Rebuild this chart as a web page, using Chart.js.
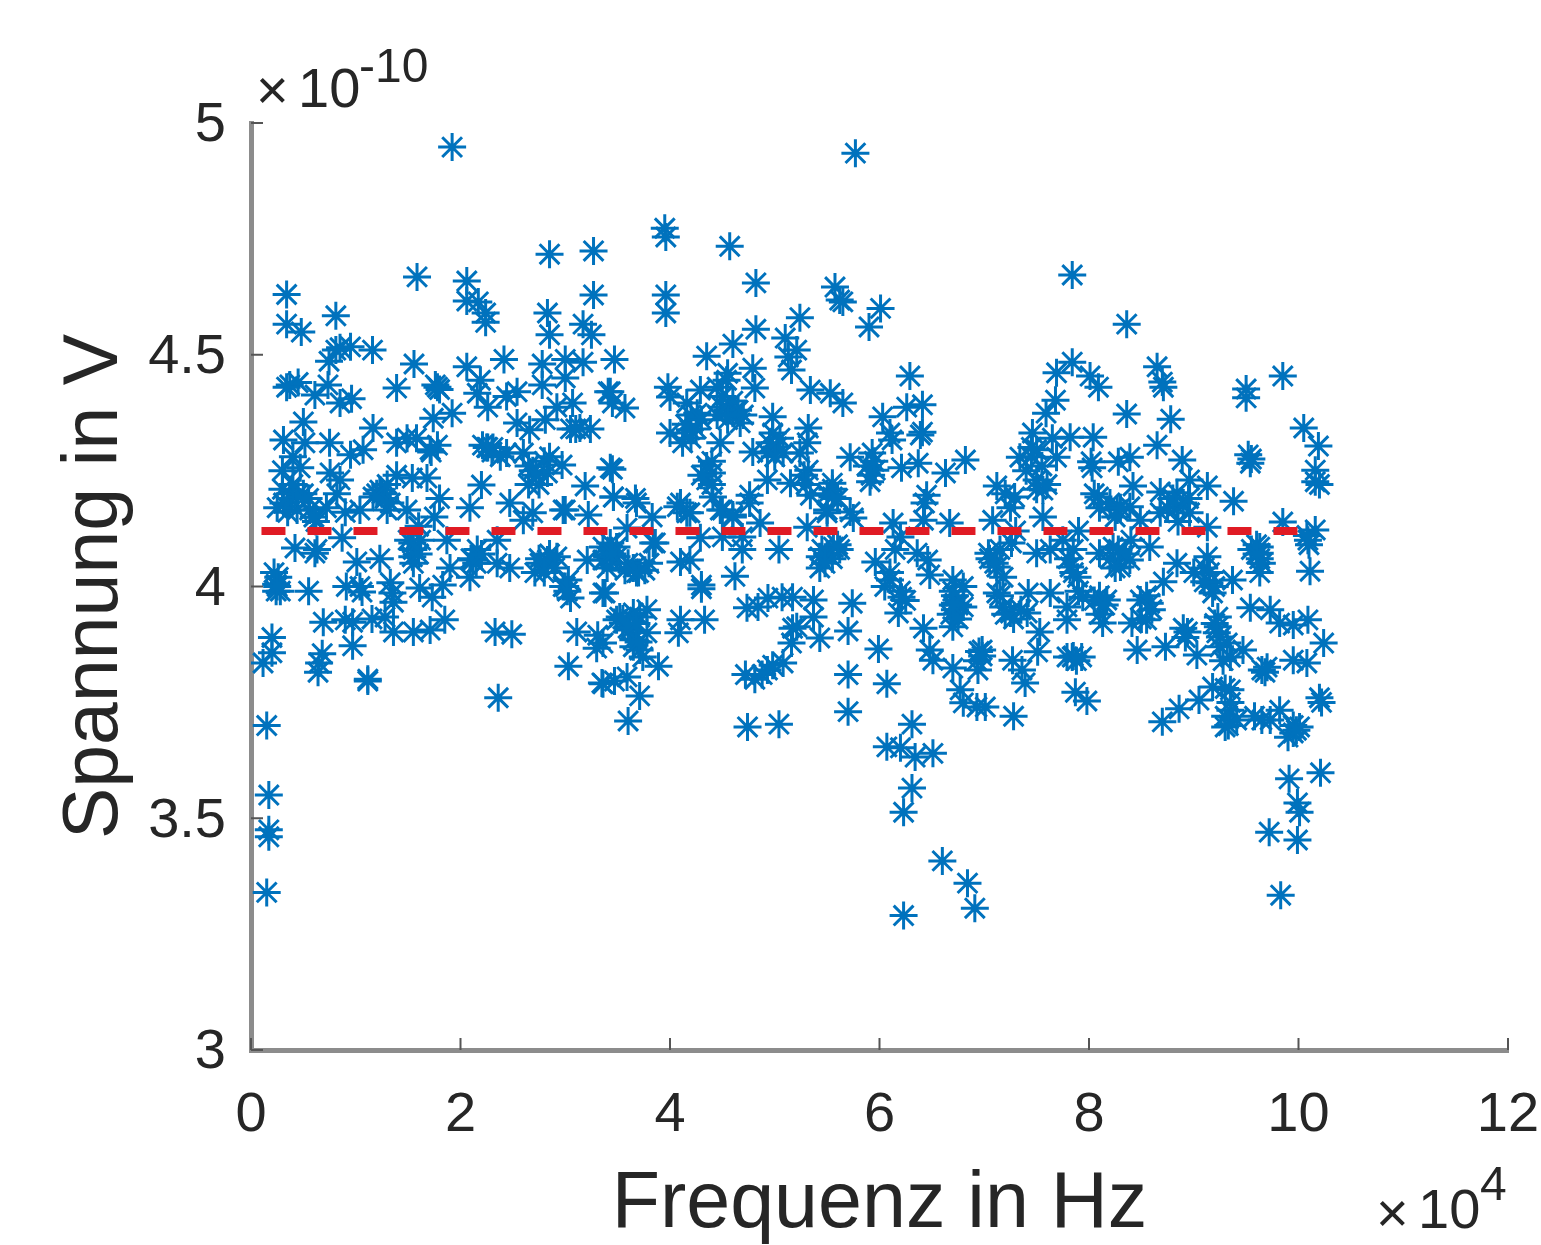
<!DOCTYPE html>
<html>
<head>
<meta charset="utf-8">
<title>Spannung über Frequenz</title>
<script src="https://cdn.jsdelivr.net/npm/chart.js@4"></script>
<style>
  html, body { margin: 0; background: #fff; }
  canvas { display: block; }
</style>
</head>
<body>
<canvas id="chart" width="1541" height="1245"></canvas>
<script>
// Tick labels (x in 10^4 Hz, y in 10^-10 V)
const xTicks = [0, 2, 4, 6, 8, 10, 12];
const yTicks = [3, 3.5, 4, 4.5, 5];

// Mean voltage line
const meanFreq = [0.1, 10.15];
const meanVolt = [4.12, 4.12];

const band0to1 = [
  [.15,3.34],[.17,3.46],[.17,3.475],[.17,3.55],[.15,3.70],[.115,3.835],[.2,3.857],[.2,3.89],
  [.24,3.99],[.24,4.005],[.26,4.02],[.22,4.03],[.28,3.99],[.25,4.0],[.55,3.99],[.91,4.0],
  [.34,4.63],[.34,4.566],[.48,4.549],[.81,4.584],[.85,4.515],[.95,4.517],[.745,4.486],[.81,4.51],
  [.37,4.435],[.45,4.44],[.34,4.43],[.61,4.413],[.735,4.435],[.85,4.396],[.96,4.405],
  [.5,4.355],[.31,4.316],[.515,4.31],[.75,4.31],[.95,4.284],[.47,4.256],[.755,4.245],[.85,4.23],
  [.37,4.2],[.5,4.2],[.31,4.18],[.44,4.165],[.56,4.165],[.82,4.2],[.42,4.083],[.63,4.08],[.61,4.072],
  [.87,4.105],[.69,3.923],[.9,3.928],[.97,3.923],[.68,3.855],[.64,3.815],[.65,3.835],[.97,3.872],
  [.3,4.25],[.4,4.28],[.62,4.14],[.72,4.17],[.9,4.16],
  [.3,4.21],[.38,4.19],[.45,4.2],[.55,4.19],[.6,4.15],[.35,4.16],[.25,4.17],[.4,4.22]
];
const band1to2 = [
  [1.16,4.51],[1.39,4.428],[1.556,4.48],[1.78,4.43],[1.76,4.435],[1.8,4.425],[1.74,4.363],[1.92,4.374],
  [1.165,4.342],[1.07,4.295],[1.39,4.31],[1.58,4.32],[1.49,4.32],[1.71,4.295],[1.78,4.305],[1.8,4.19],
  [1.54,4.234],[1.39,4.24],[1.68,4.234],[1.23,4.208],[1.165,4.193],[1.04,4.165],[1.3,4.165],[1.49,4.165],
  [1.01,4.053],[1.23,4.06],[1.54,4.094],[1.54,4.064],[1.55,4.05],[1.87,4.1],[1.9,4.04],[1.04,4.0],[1.06,3.988],
  [1.33,4.008],[1.35,3.986],[1.36,3.966],[1.61,3.997],[1.73,3.977],[1.83,4.003],[1.155,3.93],[1.28,3.934],
  [1.36,3.902],[1.55,3.902],[1.71,3.906],[1.85,3.928],[1.115,3.796],[1.115,3.80],[1.585,4.668],[1.92,4.948],
  [1.25,4.2],[1.6,4.13],[1.75,4.15],
  [1.2,4.2],[1.28,4.19],[1.3,4.22],[1.33,4.18],[1.72,4.29],[1.55,4.08],[1.6,4.07],[1.62,4.1],[1.5,4.1]
];
const band2to3 = [
  [2.85,4.717],[2.06,4.659],[2.06,4.616],[2.17,4.614],[2.24,4.59],[2.24,4.57],[2.83,4.59],[2.85,4.543],
  [2.06,4.474],[2.415,4.49],[2.19,4.445],[2.16,4.417],[2.26,4.387],[2.44,4.41],[2.54,4.42],[2.78,4.48],
  [2.78,4.435],[2.92,4.387],[2.26,4.30],[2.31,4.3],[2.21,4.305],[2.54,4.353],[2.66,4.338],[2.81,4.36],
  [2.6,4.288],[2.44,4.288],[2.69,4.25],[2.83,4.245],[2.97,4.262],[2.2,4.219],[2.47,4.18],[2.09,4.17],
  [2.69,4.159],[2.98,4.165],[2.6,4.143],[2.12,4.057],[2.09,4.02],[2.16,4.08],[2.35,4.1],[2.35,4.05],
  [2.47,4.04],[2.71,4.03],[2.83,4.057],[2.92,4.064],[2.76,4.05],[2.98,4.0],[2.33,3.902],[2.49,3.897],[2.36,3.76],
  [2.65,4.26],[2.72,4.24],[2.8,4.27],[2.75,4.22],[2.65,4.22],[2.85,4.28],[2.25,4.3],[2.3,4.29],[2.38,4.28],
  [2.1,4.06],[2.15,4.05],[2.2,4.07],[2.75,4.06],[2.85,4.07],[2.9,4.04],[2.8,4.03]
];
const band3to4 = [
  [3.27,4.724],[3.27,4.629],[3.17,4.566],[3.25,4.543],[3.0,4.49],[3.17,4.484],[3.47,4.49],[3.0,4.45],
  [3.07,4.396],[3.05,4.34],[3.24,4.34],[3.14,4.342],[3.1,4.34],[3.43,4.42],[3.45,4.396],[3.43,4.256],
  [3.19,4.217],[3.46,4.193],[3.22,4.154],[3.0,4.165],[3.03,4.014],[3.05,3.975],[3.36,3.986],[3.21,4.057],
  [3.36,4.057],[3.49,4.064],[3.36,4.085],[3.49,4.085],[3.11,3.902],[3.31,3.895],[3.3,3.867],[3.03,3.828],
  [3.35,3.792],[3.47,3.796],[3.49,3.928],[3.6,3.71],[3.71,3.764],[3.59,3.805],[3.36,3.79],[3.89,3.828],
  [3.71,3.863],[3.65,3.885],[3.55,3.921],[3.71,3.934],[3.62,3.906],[3.78,3.9],[3.74,3.848],[3.36,3.878],
  [3.78,3.95],[3.52,3.934],[3.65,3.943],[3.38,3.986],[3.76,4.035],[3.57,4.035],[3.43,4.064],[3.68,4.03],
  [3.84,4.094],[3.95,4.773],[3.96,4.754],[3.96,4.629],[3.96,4.59],[3.98,4.43],[3.41,4.42],[3.57,4.385],
  [3.45,4.253],[3.46,4.193],[3.67,4.19],[3.68,4.18],[3.83,4.15],[3.59,4.126],[3.43,4.094],[3.4,4.064],[3.86,4.094],
  [3.0,4.0],[3.02,3.99],[3.4,4.04],[3.45,4.07],[3.55,3.93],[3.6,3.91],[3.65,3.87],[3.7,3.88],[3.68,3.92],
  [3.6,4.05],[3.65,4.04],[3.7,4.03],[3.8,4.05]
];
const band4to5 = [
  [4.1,3.928],[4.33,3.928],[4.08,3.9],[4.3,4.003],[4.3,3.995],[4.62,4.022],[4.1,4.053],[4.19,4.057],
  [4.69,4.08],[4.74,3.697],[4.88,3.81],[4.93,3.82],[4.98,3.83],[4.72,3.81],[4.81,3.8],[4.735,3.954],[4.84,3.956],
  [4.935,3.975],[4.57,4.734],[4.82,4.655],[4.82,4.555],[4.6,4.523],[4.35,4.497],[4.79,4.471],[4.55,4.46],
  [4.81,4.428],[4.0,4.409],[4.29,4.424],[4.16,4.396],[4.45,4.43],[4.54,4.445],[4.6,4.374],[4.67,4.353],
  [4.5,4.387],[4.26,4.374],[4.19,4.338],[4.0,4.331],[4.98,4.366],[4.98,4.331],[4.93,4.288],[4.79,4.29],
  [4.48,4.31],[4.12,4.31],[4.93,4.23],[4.76,4.197],[4.4,4.245],[4.35,4.23],[4.41,4.193],[4.1,4.18],[4.16,4.159],
  [4.6,4.154],[4.5,4.165],[4.07,4.172],[4.19,4.159],[4.48,4.165],[4.6,4.15],[4.76,4.18],[4.86,4.137],
  [4.29,4.105],[4.5,4.107],[4.69,4.107],
  [4.5,4.41],[4.55,4.38],[4.6,4.4],[4.65,4.38],[4.55,4.36],[4.45,4.37],[4.7,4.37],[4.15,4.35],[4.2,4.37],
  [4.25,4.34],[4.3,4.36],[4.2,4.32],[4.35,4.26],[4.4,4.22],[4.4,4.27],[4.3,4.24],[4.95,4.31]
];
const band5to6 = [
  [5.04,4.08],[5.43,4.064],[5.56,4.085],[5.62,4.08],[5.43,4.04],[5.96,4.053],[5.74,3.964],[5.7,3.904],[5.99,3.865],
  [5.7,3.81],[5.7,3.73],[5.04,3.703],[5.08,3.835],[5.17,3.91],[5.16,3.878],[5.43,3.889],[5.07,3.977],[5.17,3.977],
  [5.37,3.971],[5.37,3.934],[5.21,3.913],[5.77,4.935],[5.575,4.646],[5.62,4.618],[5.65,4.614],[5.9,4.56],
  [5.24,4.58],[5.1,4.536],[5.21,4.51],[5.13,4.495],[5.16,4.467],[5.34,4.424],[5.53,4.417],[5.65,4.396],
  [5.32,4.342],[5.02,4.301],[5.08,4.288],[5.24,4.288],[5.31,4.31],[5.72,4.279],[5.93,4.288],[5.96,4.251],
  [5.91,4.226],[5.32,4.251],[5.55,4.223],[5.55,4.193],[5.15,4.223],[5.34,4.197],[5.5,4.159],[5.72,4.161],
  [5.31,4.128],[5.75,4.148],[5.5,4.165],
  [5.0,4.28],[5.05,4.32],[5.5,4.2],[5.55,4.21],[5.6,4.19],[5.28,4.24],[5.3,4.22],[5.88,4.26],[5.92,4.24],
  [5.95,4.27],[5.45,4.08],[5.5,4.07],[5.55,4.06],[5.48,4.05],[5.6,4.09]
];
const band6to7 = [
  [6.15,4.08],[6.1,4.014],[6.36,4.072],[6.46,4.057],[6.48,4.025],[6.21,3.977],[6.18,3.943],[6.72,3.964],
  [6.72,3.95],[6.72,3.98],[6.7,3.913],[6.7,4.014],[6.42,3.91],[6.07,3.79],[6.31,3.703],[6.07,3.654],[6.2,3.652],
  [6.34,3.632],[6.51,3.64],[6.31,3.565],[6.23,3.513],[6.6,3.408],[6.84,3.36],[6.91,3.306],[6.23,3.29],
  [6.51,3.841],[6.48,3.863],[6.7,3.824],[6.77,3.777],[6.8,3.749],[6.93,3.74],[6.01,4.6],[6.29,4.454],[6.03,4.366],
  [6.26,4.387],[6.41,4.392],[6.1,4.331],[6.41,4.333],[6.12,4.316],[6.39,4.327],[6.21,4.256],[6.37,4.266],
  [6.63,4.245],[6.82,4.273],[6.45,4.197],[6.13,4.137],[6.42,4.143],[6.67,4.137],[6.43,4.18],[6.2,4.107],
  [6.8,4.0],[6.8,3.956],[6.98,3.863],[6.94,3.82],
  [6.2,3.99],[6.25,3.97],[6.7,3.99],[6.75,3.96],[6.68,3.94],[6.75,3.93],[6.7,3.96],[6.1,4.03],[6.05,4.0],
  [6.95,3.86],[6.93,3.84],[6.98,3.85]
];
const band7to8 = [
  [7.84,4.672],[7.84,4.484],[7.69,4.461],[7.68,4.402],[7.59,4.374],[7.46,4.331],[7.65,4.32],[7.82,4.322],
  [7.34,4.279],[7.5,4.295],[7.69,4.279],[7.5,4.23],[7.56,4.208],[7.12,4.217],[7.29,4.193],[7.08,4.143],[7.56,4.15],
  [7.04,4.072],[7.12,4.042],[7.18,4.02],[7.26,4.094],[7.5,4.072],[7.63,4.08],[7.75,4.1],[7.82,4.042],[7.89,4.02],
  [7.12,3.986],[7.18,3.956],[7.25,3.943],[7.41,3.943],[7.42,3.986],[7.63,3.986],[7.79,3.956],[7.79,3.928],
  [7.94,3.977],[7.53,3.902],[7.51,3.859],[7.79,3.848],[7.93,3.848],[7.84,3.848],[7.27,3.841],[7.39,3.792],
  [7.36,3.82],[7.87,3.772],[7.98,3.753],[7.01,3.74],[7.28,3.72],[7.9,4.12],[7.3,4.12],
  [7.4,4.25],[7.45,4.28],[7.55,4.26],[7.5,4.21],[7.6,4.22],[7.45,4.3],[7.2,4.2],[7.25,4.17],[7.05,4.06],
  [7.1,4.05],[7.15,4.08],[7.15,3.98],[7.2,3.94],[7.28,3.93],[7.35,3.95],[7.8,4.06],[7.85,4.03],[7.9,3.99],
  [7.85,4.08],[7.85,3.85],[7.88,3.84]
];
const band8to9 = [
  [8.36,4.566],[8.01,4.454],[8.09,4.43],[8.65,4.474],[8.7,4.441],[8.71,4.43],[8.36,4.372],[8.78,4.361],
  [8.04,4.322],[8.65,4.305],[8.02,4.269],[8.03,4.256],[8.28,4.269],[8.39,4.279],[8.89,4.273],[8.42,4.217],
  [8.68,4.204],[8.84,4.202],[8.96,4.23],[8.09,4.193],[8.27,4.165],[8.39,4.172],[8.68,4.159],[8.84,4.172],
  [8.96,4.159],[8.49,4.143],[8.1,4.072],[8.23,4.085],[8.3,4.042],[8.39,4.057],[8.58,4.085],[8.84,4.05],
  [8.71,4.01],[8.17,3.971],[8.13,3.921],[8.49,3.971],[8.58,3.964],[8.55,3.928],[8.41,3.921],[8.94,3.902],
  [8.73,3.87],[8.46,3.863],[8.7,3.708],[8.86,3.736],
  [8.05,4.2],[8.1,4.17],[8.2,4.18],[8.25,4.15],[8.3,4.17],[8.75,4.17],[8.8,4.19],[8.9,4.18],[8.85,4.14],
  [8.95,4.19],[8.2,4.06],[8.25,4.04],[8.35,4.07],[8.28,4.08],[8.4,4.1],[8.05,3.97],[8.1,3.98],[8.1,3.94],
  [8.15,3.96],[8.55,3.98],[8.6,3.95],[8.5,3.93],[8.9,3.91],[8.92,3.89]
];
const band9to11 = [
  [9.5,4.426],[9.5,4.407],[9.85,4.454],[10.05,4.342],[10.19,4.303],[9.52,4.284],[9.54,4.266],[9.55,4.275],
  [10.16,4.251],[10.16,4.226],[10.2,4.22],[9.13,4.217],[9.38,4.184],[9.85,4.139],[10.16,4.122],[9.13,4.128],
  [10.09,4.1],[10.1,4.09],[10.11,4.033],[9.63,4.072],[9.63,4.085],[9.63,4.06],[9.63,4.03],[9.0,4.03],
  [9.15,4.008],[9.18,3.986],[9.13,4.064],[9.37,4.014],[9.54,3.954],[9.73,3.95],[9.82,3.921],[9.95,3.917],
  [10.09,3.928],[9.23,3.934],[9.23,3.913],[9.25,3.891],[10.24,3.878],[9.03,3.852],[9.05,3.755],[9.35,3.777],
  [9.18,3.783],[9.35,3.733],[9.3,3.697],[9.41,3.712],[9.65,3.712],[9.73,3.712],[9.82,3.733],[9.95,3.684],
  [9.9,3.675],[10.01,3.697],[10.2,3.76],[10.22,3.75],[9.65,3.82],[9.68,3.815],[9.7,3.826],[9.47,3.863],
  [9.35,3.848],[9.32,3.878],[9.95,3.841],[10.08,3.835],[10.21,3.598],[9.91,3.585],[9.99,3.533],[10.01,3.513],
  [9.72,3.47],[9.99,3.453],[9.83,3.334],
  [9.1,4.04],[9.15,4.03],[9.2,4.0],[9.1,4.01],[9.55,4.08],[9.6,4.09],[9.65,4.05],[9.6,4.07],[9.2,3.92],
  [9.25,3.87],[9.22,3.9],[9.28,3.84],[9.3,3.78],[9.35,3.75],[9.3,3.72],[9.33,3.7],[9.58,3.72],[9.95,3.7],
  [9.98,3.69],[10.08,4.11]
];

const allBands = [band0to1, band1to2, band2to3, band3to4, band4to5, band5to6, band6to7, band7to8, band8to9, band9to11];
const messwerte = allBands.flat().map(([x, y]) => ({ x, y }));
const mittelwert = meanFreq.map((x, i) => ({ x, y: meanVolt[i] }));

const textColor = "#262626";
const axisColor = "#8c8c8c";
const fontName = "'Liberation Sans', Arial, sans-serif";

// MATLAB style: inward ticks and the "x10^n" exponent texts
const matlabAxes = {
  id: "matlabAxes",
  afterDraw: (chart) => {
    const { ctx, scales } = chart;
    const { x, y } = scales;
    ctx.save();
    ctx.strokeStyle = "#555";
    ctx.lineWidth = 2;
    xTicks.forEach((v) => {
      const px = x.getPixelForValue(v);
      ctx.beginPath();
      ctx.moveTo(px, y.bottom);
      ctx.lineTo(px, y.bottom - 12);
      ctx.stroke();
    });
    yTicks.forEach((v) => {
      const py = y.getPixelForValue(v);
      ctx.beginPath();
      ctx.moveTo(x.left, py);
      ctx.lineTo(x.left + 12, py);
      ctx.stroke();
    });

    ctx.fillStyle = textColor;
    ctx.textBaseline = "alphabetic";
    ctx.textAlign = "left";
    ctx.font = `56px ${fontName}`;
    ctx.fillText("×", 256, 109);
    ctx.fillText("10", 298, 107);
    ctx.fillText("×", 1376, 1232);
    ctx.fillText("10", 1418, 1228);
    ctx.font = `48px ${fontName}`;
    ctx.fillText("-10", 359, 82);
    ctx.fillText("4", 1480, 1200);
    ctx.restore();
  },
};

new Chart(document.getElementById("chart").getContext("2d"), {
  data: {
    datasets: [
      {
        type: "line",
        label: "Mittelwert",
        data: mittelwert,
        borderColor: "#e01b24",
        borderWidth: 8,
        borderDash: [24, 22],
        pointRadius: 0,
        fill: false,
        order: 0,
      },
      {
        type: "scatter",
        label: "Messwerte",
        data: messwerte,
        pointStyle: "star",
        pointRadius: 14,
        borderWidth: 3,
        borderColor: "#0072BD",
        backgroundColor: "#0072BD",
        order: 1,
      },
    ],
  },
  options: {
    responsive: false,
    animation: false,
    layout: { padding: { top: 123, right: 33, left: 0, bottom: 0 } },
    plugins: { legend: { display: false }, tooltip: { enabled: false } },
    scales: {
      x: {
        type: "linear",
        min: 0,
        max: 12,
        // tick label overhang would otherwise pull the right edge in
        afterFit: (s) => { s.height = 195; s.paddingRight = 0; s.paddingLeft = 0; },
        afterBuildTicks: (s) => { s.ticks = xTicks.map((value) => ({ value })); },
        grid: { display: false },
        border: { display: true, color: axisColor, width: 5 },
        ticks: {
          color: textColor,
          padding: 24,
          maxRotation: 0,
          font: { family: fontName, size: 56 },
          callback: (v) => String(v),
        },
        title: {
          display: true,
          text: "Frequenz in Hz",
          color: textColor,
          font: { family: fontName, size: 79 },
          padding: { top: 0, bottom: -8 },
        },
      },
      y: {
        type: "linear",
        min: 3,
        max: 5,
        afterFit: (s) => { s.width = 251; },
        afterBuildTicks: (s) => { s.ticks = yTicks.map((value) => ({ value })); },
        grid: { display: false },
        border: { display: true, color: axisColor, width: 5 },
        ticks: {
          color: textColor,
          padding: 17,
          labelOffset: 3,
          font: { family: fontName, size: 56 },
          callback: (v) => String(v),
        },
        title: {
          display: true,
          text: "Spannung in V",
          color: textColor,
          font: { family: fontName, size: 77 },
          padding: { top: 50, bottom: 0 },
        },
      },
    },
  },
  plugins: [matlabAxes],
});
</script>
</body>
</html>
